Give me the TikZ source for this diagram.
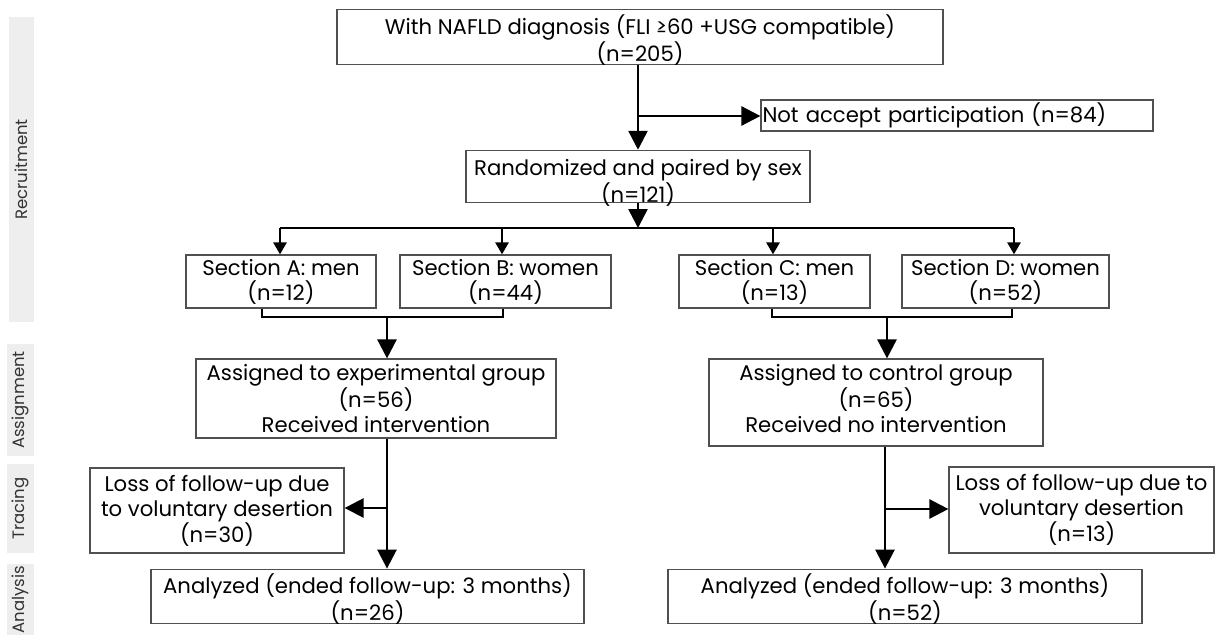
\documentclass[tikz,border=0pt]{standalone}
\usepackage{fontspec}
\setmainfont{Poppins}
\usetikzlibrary{arrows.meta}
\definecolor{boxline}{HTML}{505050}
\definecolor{sidefill}{HTML}{EEEEEE}
\definecolor{sidetext}{HTML}{333333}
\newcommand\tshift[2]{\raisebox{#1}[\height][\depth]{\begin{tabular}{@{}c@{}}#2\end{tabular}}}
\begin{document}
\begin{tikzpicture}[x=1pt,y=-1pt,
  bx/.style={draw=boxline, line width=1.2pt, fill=white, inner sep=0pt, align=center,
    font=\fontsize{21.2}{25}\selectfont, text=black},
  side/.style={fill=sidefill, inner sep=0pt, rotate=90,
    font=\fontsize{16.5}{18}\selectfont, text=sidetext},
  conn/.style={line width=2.6pt, draw=black},
  big/.style={-{Triangle[length=19pt,width=19pt]}},
  small/.style={-{Triangle[length=12pt,width=13pt]}}]
\useasboundingbox (0,0) rectangle (1215,635);

% side labels
\node[side, minimum width=305, minimum height=25] (sRec) at (21.5,169.5) {Recruitment};
\node[side, minimum width=112, minimum height=27] (sAss) at (20.5,400) {Assignment};
\node[side, minimum width=89, minimum height=27] (sTra) at (20.5,508.5) {Tracing};
\node[side, minimum width=71, minimum height=27] (sAna) at (20.5,599.5) {Analysis};

% boxes
\node[bx, minimum width=606, minimum height=52] (top) at (640,37)
  {\tshift{-5pt}{With NAFLD diagnosis (FLI ≥60 +USG compatible)\\(n=205)}};
\node[bx, minimum width=392, minimum height=31, text width=389, align=left] (notacc) at (957,115.5)
  {Not accept participation (n=84)};
\node[bx, minimum width=344, minimum height=49] (rand) at (638,176.5)
  {\tshift{-7.5pt}{Randomized and paired by sex\\(n=121)}};
\node[bx, minimum width=190, minimum height=53] (secA) at (281,281.5)
  {Section A: men\\(n=12)};
\node[bx, minimum width=211, minimum height=53] (secB) at (505.5,281.5)
  {Section B: women\\(n=44)};
\node[bx, minimum width=191, minimum height=53] (secC) at (774.5,281.5)
  {Section C: men\\(n=13)};
\node[bx, minimum width=207, minimum height=53] (secD) at (1005.5,281.5)
  {Section D: women\\(n=52)};
\node[bx, minimum width=360, minimum height=79] (exp) at (376,398.5)
  {Assigned to experimental group\\(n=56)\\Received intervention};
\node[bx, minimum width=334, minimum height=87] (ctrl) at (876,402.5)
  {\tshift{1pt}{Assigned to control group\\(n=65)\\Received no intervention}};
\node[bx, minimum width=254, minimum height=85] (lossL) at (217,510.5)
  {Loss of follow-up due\\to voluntary desertion\\(n=30)};
\node[bx, minimum width=265, minimum height=86] (lossR) at (1081.5,510)
  {Loss of follow-up due to\\voluntary desertion\\(n=13)};
\node[bx, minimum width=433, minimum height=53] (anL) at (367.5,596.5)
  {\tshift{-4.5pt}{Analyzed (ended follow-up: 3 months)\\(n=26)}};
\node[bx, minimum width=474, minimum height=53] (anR) at (905,596.5)
  {\tshift{-4.5pt}{Analyzed (ended follow-up: 3 months)\\(n=52)}};

% coordinates
\coordinate (v1) at (638,116);
\coordinate (dist) at (638,228);
\coordinate (dA) at (280,228);
\coordinate (dB) at (502,228);
\coordinate (dC) at (773,228);
\coordinate (dD) at (1014,228);
\coordinate (bLa) at (262,317);
\coordinate (bLb) at (503,317);
\coordinate (bLc) at (387,317);
\coordinate (bRa) at (772,317);
\coordinate (bRb) at (1012,317);
\coordinate (bRc) at (887,317);
\coordinate (vL) at (387,508);
\coordinate (vR) at (885,509);

% connectors
\draw[conn, big] (rand.north |- top.south) -- (rand.north);
\draw[conn, big] (v1) -- (v1 -| notacc.west);
\draw[conn, big] (rand.south -| dist) -- (dist);
\draw[conn] (dA) -- (dD);
\draw[conn, small] (dA) -- (dA |- secA.north);
\draw[conn, small] (dB) -- (dB |- secB.north);
\draw[conn, small] (dC) -- (dC |- secC.north);
\draw[conn, small] (dD) -- (dD |- secD.north);
\draw[conn] (bLa |- secA.south) -- (bLa) -- (bLb) -- (bLb |- secB.south);
\draw[conn, big] (bLc) -- (bLc |- exp.north);
\draw[conn] (bRa |- secC.south) -- (bRa) -- (bRb) -- (bRb |- secD.south);
\draw[conn, big] (bRc) -- (bRc |- ctrl.north);
\draw[conn, big] (vL |- exp.south) -- (vL |- anL.north);
\draw[conn, big] (vL) -- (vL -| lossL.east);
\draw[conn, big] (vR |- ctrl.south) -- (vR |- anR.north);
\draw[conn, big] (vR) -- (vR -| lossR.west);
\end{tikzpicture}
\end{document}
